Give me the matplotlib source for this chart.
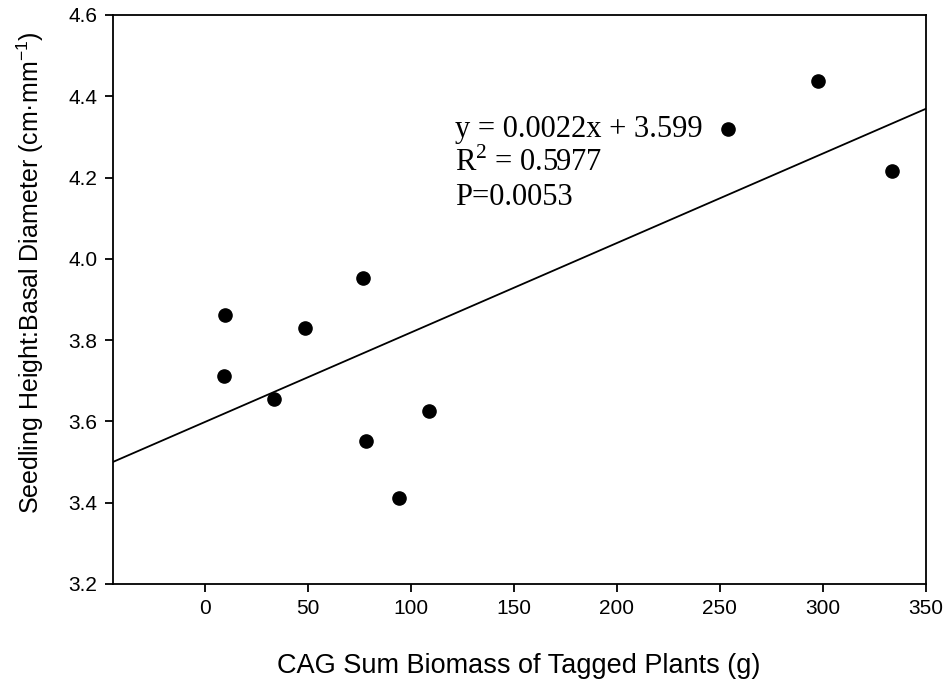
import numpy as np
import matplotlib.pyplot as plt

# CAG biomass vs height:diameter ratio
biomass = [9.6, 9.2, 33.4, 48.5, 76.5, 77.9, 94.3, 108.8, 253.8, 297.9, 333.5]
ratio = [3.862, 3.712, 3.654, 3.831, 3.954, 3.551, 3.412, 3.626, 4.319, 4.437, 4.217]

# regression from the figure
slope = 0.0022
intercept = 3.599
fit_text = ['y = 0.0022x + 3.599', r'R$^2$ = 0.5977', 'P=0.0053']

xmin, xmax = -45, 350
ymin, ymax = 3.2, 4.6

plt.rcParams['font.family'] = ['Liberation Sans', 'DejaVu Sans']
plt.rcParams['mathtext.fontset'] = 'custom'
plt.rcParams['mathtext.rm'] = 'Liberation Serif'
plt.rcParams['mathtext.sf'] = 'Liberation Sans'

fig = plt.figure(figsize=(9.5, 6.84), dpi=100)
ax = fig.add_axes([0.1186, 0.1462, 0.8558, 0.8319])

xl = np.array([xmin, xmax])
ax.plot(xl, slope * xl + intercept, color='black', linewidth=1.3)
ax.plot(biomass, ratio, 'o', color='black', markersize=9.5, zorder=5)

ys = [4.319, 4.236, 4.152]
for t, yy in zip(fit_text, ys):
    ax.text(121.3, yy, t, fontsize=22, family='Liberation Serif', va='center', ha='left')

ax.set_xlim(xmin, xmax)
ax.set_ylim(ymin, ymax)
ax.set_xticks(np.arange(0, 351, 50))
ax.set_yticks(np.arange(3.2, 4.61, 0.2))
ax.set_yticklabels(['%.1f' % v for v in np.arange(3.2, 4.61, 0.2)])
ax.tick_params(direction='out', length=6, width=1.3, labelsize=15, pad=5)
for s in ax.spines.values():
    s.set_linewidth(1.3)

ax.set_xlabel('CAG Sum Biomass of Tagged Plants (g)', fontsize=19.5, labelpad=25)
ax.set_ylabel('Seedling Height:Basal Diameter (cm\u00b7mm$^{\\mathsf{-1}}$)', fontsize=18, labelpad=16)
ax.yaxis.label.set_y(0.547)

fig.savefig('out.png', dpi=100)
